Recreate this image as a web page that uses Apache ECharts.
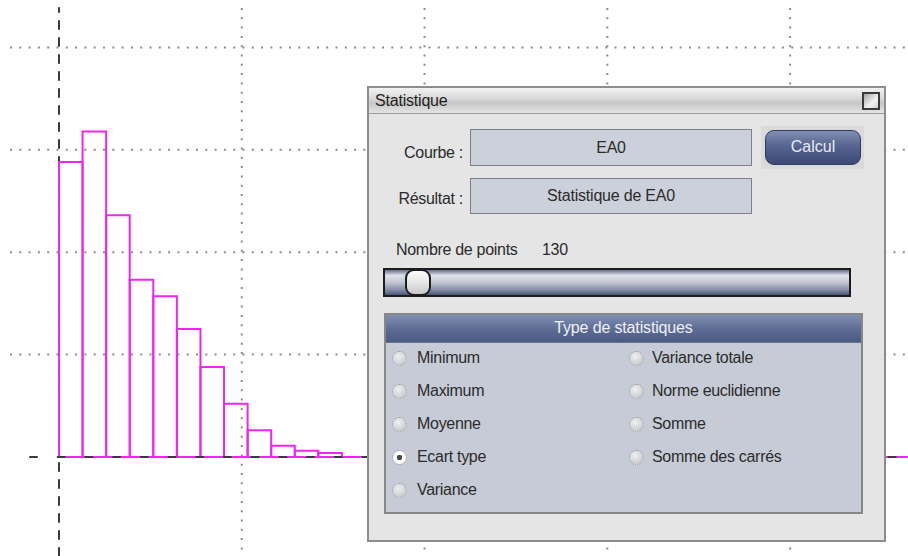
<!DOCTYPE html>
<html>
<head>
<meta charset="utf-8">
<script src="https://cdn.jsdelivr.net/npm/echarts@6.0.0/dist/echarts.min.js"></script>
<style>
  html, body { margin: 0; padding: 0; background: #fff; }
  #wrap { position: relative; width: 908px; height: 556px; overflow: hidden;
          font-family: "Liberation Sans", Arial, sans-serif; color: #2b2b2b; }
  #chart { position: absolute; left: 0; top: 0; width: 908px; height: 556px; }
  .abs { position: absolute; box-sizing: border-box; white-space: nowrap; }
  .lbl { font-size: 16px; letter-spacing: -0.3px; line-height: 20px; }
  .field { background: #cbd0da; border: 1px solid #7c7f86; text-align: center; font-size: 16px; letter-spacing: -0.2px; }
  .radio { width: 15px; height: 15px; border-radius: 50%; border: 1px dotted #9a9ca2;
           background: radial-gradient(circle at 40% 35%, #f0f0f0, #c9cbd0 75%); }
  .radio.on { background: radial-gradient(circle, #4a4a4a 0 2.5px, #ffffff 3px); border: 1px solid #b0b2b8; }
</style>
</head>
<body>
<div id="wrap">
  <div id="chart"></div>

  <!-- fenetre "Statistique" posee sur le graphe -->
  <div class="abs" style="left:367px;top:86px;width:519px;height:456px;background:#e5e5e5;border:2px solid #8d8d8d;"></div>
  <div class="abs" style="left:369px;top:88px;width:515px;height:26px;border-bottom:1px solid #9c9c9c;
       background:linear-gradient(#f3f3f3,#d6d6d6 45%,#c6c6c6 60%,#e4e4e4);"></div>
  <div class="abs lbl" style="left:375px;top:91px;letter-spacing:-0.2px;color:#1e1e1e;">Statistique</div>
  <div class="abs" style="left:862px;top:92px;width:18px;height:18px;border:2px solid #3a3a3a;
       background:linear-gradient(135deg,#a4a4a4,#f2f2f2 60%,#d0d0d0);"></div>

  <div class="abs lbl" style="left:372px;top:143px;width:91px;text-align:right;">Courbe :</div>
  <div class="abs field" style="left:470px;top:129px;width:282px;height:37px;line-height:35px;">EA0</div>
  <div class="abs lbl" style="left:372px;top:189px;width:91px;text-align:right;">Résultat :</div>
  <div class="abs field" style="left:470px;top:178px;width:282px;height:36px;line-height:34px;">Statistique de EA0</div>

  <div class="abs" style="left:761px;top:126px;width:103px;height:43px;background:#dadada;"></div>
  <div class="abs" style="left:765px;top:130px;width:96px;height:35px;border-radius:9px;border:1px solid #303b60;
       background:linear-gradient(#8290b4,#56648f 45%,#3c4974);color:#e8ecf4;font-size:16px;text-align:center;line-height:32px;">Calcul</div>

  <div class="abs lbl" style="left:396px;top:240px;">Nombre de points</div>
  <div class="abs lbl" style="left:542px;top:240px;">130</div>
  <div class="abs" style="left:383px;top:268px;width:468px;height:29px;border:2px solid #1c1c1c;
       background:linear-gradient(#65708e,#dfe2ea 22%,#c3c7d2 50%,#8690aa 78%,#4b5676);"></div>
  <div class="abs" style="left:405px;top:269px;width:26px;height:27px;border:2px solid #1c1c1c;border-radius:9px;
       background:linear-gradient(#fbfbfb,#e6e6e6 50%,#c9c9c9);"></div>

  <div class="abs" style="left:384px;top:313px;width:479px;height:201px;border:2px solid #878787;background:#c7cbd6;"></div>
  <div class="abs" style="left:386px;top:315px;width:475px;height:28px;border-bottom:1px solid #6a7490;
       background:linear-gradient(#8190b2,#5f6d95 50%,#4b5a84);color:#eef1f7;font-size:16px;letter-spacing:-0.15px;
       text-align:center;line-height:26px;">Type de statistiques</div>

  <div id="radios"></div>
</div>

<script>
// histogramme : classes de largeur fixe a partir de 0
var binStart = 0;
var binWidth = 0.129;
var counts = [28.8, 31.8, 23.6, 17.3, 15.7, 12.5, 8.8, 5.2, 2.6, 1.1, 0.6, 0.4,
              0, 0, 0, 0, 0, 0, 0, 0, 0, 0, 0, 0, 0, 0, 0, 0, 0, 0, 0, 0, 0, 0, 0, 0, 0];
// lignes de grille pointillees
var gridX = [1, 2, 3, 4];
var gridY = [10, 20, 30, 40];
// etendue visible des axes
var xRange = [-0.268, 4.645];
var yRange = [-9.67, 43.85];

// options de la fenetre
var leftChoices = ['Minimum', 'Maximum', 'Moyenne', 'Ecart type', 'Variance'];
var rightChoices = ['Variance totale', 'Norme euclidienne', 'Somme', 'Somme des carrés'];
var selected = 'Ecart type';

function buildRadios() {
    var box = document.getElementById('radios');
    var html = '';
    var cols = [[leftChoices, 392, 417], [rightChoices, 629, 652]];
    cols.forEach(function (col) {
        col[0].forEach(function (name, i) {
            var cy = 358 + i * 33;
            html += '<div class="abs radio' + (name === selected ? ' on' : '') + '" style="left:' + col[1] +
                'px;top:' + (cy - 7) + 'px;"></div>';
            html += '<div class="abs lbl" style="left:' + col[2] + 'px;top:' + (cy - 10) + 'px;">' + name + '</div>';
        });
    });
    box.innerHTML = html;
}

var dotStyle = { stroke: '#8c8c8c', lineWidth: 2, lineDash: [2, 7.3] };
var magenta = '#f026f0';

function setOption() {
    return {
        animation: false,
        grid: { left: 10, right: 0, top: 8, bottom: 0, outerBoundsMode: 'none' },
        xAxis: {
            type: 'value', min: xRange[0], max: xRange[1], z: 5,
            axisLine: { show: true, onZero: true, lineStyle: { color: '#3a3a3a', width: 2, type: [7, 20.7], dashOffset: 7.7 } },
            axisTick: { show: false }, axisLabel: { show: false }, splitLine: { show: false }
        },
        yAxis: {
            type: 'value', min: yRange[0], max: yRange[1], z: 0,
            axisLine: { show: true, onZero: true, lineStyle: { color: '#3a3a3a', width: 2, type: [8, 9] } },
            axisTick: { show: false }, axisLabel: { show: false }, splitLine: { show: false }
        },
        series: [
            {
                // verticales
                type: 'custom', silent: true, z: 1,
                data: gridX.map(function (v) { return [v, 0]; }),
                renderItem: function (params, api) {
                    var a = api.coord([api.value(0), yRange[1]]);
                    var b = api.coord([api.value(0), yRange[0]]);
                    return { type: 'line', shape: { x1: a[0], y1: a[1], x2: b[0], y2: b[1] }, style: dotStyle };
                }
            },
            {
                // horizontales
                type: 'custom', silent: true, z: 1,
                data: gridY.map(function (v) { return [0, v]; }),
                renderItem: function (params, api) {
                    var a = api.coord([xRange[0], api.value(1)]);
                    var b = api.coord([xRange[1], api.value(1)]);
                    return { type: 'line', shape: { x1: a[0], y1: a[1], x2: b[0], y2: b[1] }, style: dotStyle };
                }
            },
            {
                // barres de l'histogramme, contour seul
                type: 'custom', silent: true, z: 2,
                encode: { x: [0, 1], y: 2 },
                data: counts.map(function (c, i) {
                    return [binStart + i * binWidth, binStart + (i + 1) * binWidth, c];
                }),
                renderItem: function (params, api) {
                    var x0 = api.value(0), x1 = api.value(1), c = api.value(2);
                    var pts = [api.coord([x0, 0]), api.coord([x0, c]), api.coord([x1, c]), api.coord([x1, 0])];
                    return { type: 'polygon', shape: { points: pts }, style: { fill: 'none', stroke: magenta, lineWidth: 2 } };
                }
            }
        ]
    };
}

var myChart = echarts.init(document.getElementById('chart'));
myChart.setOption(setOption());
buildRadios();
</script>
</body>
</html>
